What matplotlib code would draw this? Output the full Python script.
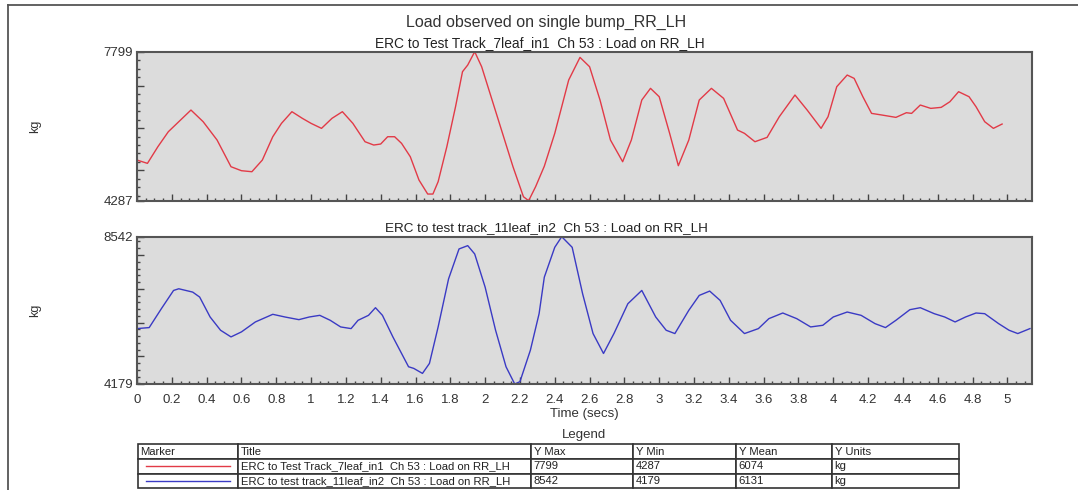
import matplotlib
matplotlib.use("Agg")
import matplotlib.pyplot as plt
from matplotlib.ticker import MultipleLocator, FixedLocator
from matplotlib.lines import Line2D

plt.rcParams['font.family'] = ['Liberation Sans', 'DejaVu Sans']

# valores (tempo em s, carga em kg)
t_red = [0.00, 0.06, 0.12, 0.18, 0.24, 0.31, 0.38, 0.46, 0.54, 0.60, 0.66, 0.72,
         0.78, 0.83, 0.89, 0.95, 1.00, 1.06, 1.12, 1.18, 1.24, 1.31, 1.36, 1.40,
         1.44, 1.48, 1.52, 1.57, 1.62, 1.67, 1.70, 1.73, 1.78, 1.83, 1.87, 1.90,
         1.94, 1.98, 2.04, 2.10, 2.16, 2.22, 2.25, 2.29, 2.34, 2.40, 2.48, 2.545,
         2.60, 2.66, 2.72, 2.79, 2.84, 2.90, 2.95, 3.00, 3.06, 3.11, 3.17, 3.23,
         3.30, 3.37, 3.45, 3.49, 3.55, 3.62, 3.69, 3.78, 3.85, 3.93, 3.97, 4.02,
         4.08, 4.12, 4.17, 4.22, 4.28, 4.36, 4.42, 4.45, 4.50, 4.56, 4.62, 4.67,
         4.72, 4.78, 4.82, 4.87, 4.92, 4.97]
load_red = [5245, 5167, 5560, 5913, 6149, 6424, 6149, 5717, 5088, 4994, 4970, 5245,
            5795, 6110, 6385, 6228, 6110, 5992, 6228, 6385, 6110, 5677, 5599, 5623,
            5795, 5795, 5638, 5324, 4774, 4444, 4444, 4735, 5560, 6503, 7328, 7485,
            7799, 7445, 6660, 5874, 5088, 4381, 4287, 4617, 5100, 5874, 7131, 7665,
            7445, 6660, 5717, 5206, 5717, 6660, 6935, 6738, 5874, 5112, 5717, 6660,
            6935, 6699, 5952, 5874, 5677, 5780, 6267, 6778, 6424, 5992, 6267, 6974,
            7249, 7170, 6738, 6345, 6306, 6251, 6361, 6345, 6542, 6463, 6487, 6620,
            6856, 6738, 6503, 6149, 5992, 6094]

t_blue = [0.00, 0.07, 0.14, 0.21, 0.24, 0.32, 0.36, 0.42, 0.48, 0.54, 0.60, 0.68,
          0.78, 0.85, 0.93, 0.99, 1.05, 1.11, 1.17, 1.23, 1.27, 1.33, 1.37, 1.41,
          1.47, 1.52, 1.56, 1.59, 1.64, 1.68, 1.73, 1.79, 1.85, 1.90, 1.94, 2.00,
          2.06, 2.12, 2.17, 2.20, 2.26, 2.31, 2.34, 2.40, 2.44, 2.50, 2.56, 2.62,
          2.68, 2.74, 2.82, 2.90, 2.98, 3.04, 3.09, 3.17, 3.23, 3.29, 3.35, 3.41,
          3.49, 3.57, 3.63, 3.71, 3.79, 3.87, 3.94, 4.00, 4.08, 4.16, 4.24, 4.30,
          4.36, 4.44, 4.50, 4.58, 4.64, 4.70, 4.76, 4.82, 4.87, 4.95, 5.01, 5.06,
          5.13]
load_blue = [5820, 5850, 6410, 6950, 7000, 6901, 6754, 6164, 5771, 5574, 5722, 6017,
             6243, 6164, 6085, 6164, 6213, 6066, 5869, 5820, 6066, 6213, 6439, 6213,
             5574, 5083, 4690, 4641, 4493, 4788, 5869, 7294, 8179, 8277, 8031, 7048,
             5771, 4690, 4179, 4248, 5181, 6262, 7343, 8228, 8542, 8228, 6852, 5673,
             5083, 5673, 6557, 6950, 6164, 5771, 5673, 6361, 6803, 6931, 6655, 6066,
             5673, 5820, 6115, 6282, 6115, 5869, 5918, 6164, 6311, 6213, 5967, 5850,
             6066, 6380, 6439, 6262, 6164, 6017, 6164, 6282, 6262, 5967, 5771, 5673,
             5820]

titulos = ["ERC to Test Track_7leaf_in1  Ch 53 : Load on RR_LH",
           "ERC to test track_11leaf_in2  Ch 53 : Load on RR_LH"]
y_max = ["7799", "8542"]
y_min = ["4287", "4179"]
y_mean = ["6074", "6131"]
y_units = ["kg", "kg"]
cores = ['#e23a47', '#3a3ac4']

fig = plt.figure(figsize=(10.78, 4.90), dpi=100)
W, H = 1078, 490

def pos(x0, y0, x1, y1):
    return [x0 / W, 1 - y1 / H, (x1 - x0) / W, (y1 - y0) / H]

# moldura externa
fig.add_artist(Line2D([8 / W, 1], [1 - 5 / H, 1 - 5 / H], color='#555555', lw=1.3))
fig.add_artist(Line2D([8 / W, 8 / W], [0, 1 - 5 / H], color='#555555', lw=1.3))

ax1 = fig.add_axes(pos(137, 51.7, 1031.7, 200.7))
ax2 = fig.add_axes(pos(137, 236.7, 1031.7, 384))

dados = [(ax1, t_red, load_red, 4287, 7799), (ax2, t_blue, load_blue, 4179, 8542)]
for k, (ax, t, v, lo, hi) in enumerate(dados):
    ax.set_facecolor('#dcdcdc')
    ax.plot(t, v, color=cores[k], lw=1.0)
    ax.set_xlim(0, 5.14)
    ax.set_ylim(lo, hi)
    ax.yaxis.set_major_locator(FixedLocator([lo, 5000, 6000, 7000, 8000, hi]))
    ax.set_yticklabels([str(lo), '', '', '', '', str(hi)])
    ax.yaxis.set_minor_locator(MultipleLocator(200))
    ax.xaxis.set_major_locator(MultipleLocator(0.2))
    ax.xaxis.set_minor_locator(MultipleLocator(0.05))
    ax.tick_params(which='both', direction='in', color='#444444', labelsize=9.5,
                   labelcolor='#333333', pad=3)
    ax.tick_params(axis='x', pad=7)
    ax.tick_params(which='major', length=5, width=1)
    ax.tick_params(which='minor', length=2.5, width=1)
    for s in ax.spines.values():
        s.set_color('#555555')
        s.set_linewidth(1.5)
    ax.set_ylabel('kg', fontsize=9, color='#333333')
    ax.yaxis.set_label_coords(-96 / 894.7, 0.5)

ax1.tick_params(axis='x', labelbottom=False)
xt = [round(0.2 * i, 1) for i in range(26)]
ax2.set_xticks(xt)
ax2.set_xticklabels(['%g' % x for x in xt])
ax2.set_xlabel('Time (secs)', fontsize=9.5, color='#333333', labelpad=2)

fig.text(546 / W, 1 - 22.7 / H, 'Load observed on single bump_RR_LH',
         ha='center', va='center', fontsize=11.5, color='#333333')
fig.text(540 / W, 1 - 43.3 / H, titulos[0], ha='center', va='center',
         fontsize=9.9, color='#222222')
fig.text(546 / W, 1 - 228.3 / H, titulos[1], ha='center', va='center',
         fontsize=9.7, color='#222222')
fig.text(584 / W, 1 - 435 / H, 'Legend', ha='center', va='center',
         fontsize=9.5, color='#333333')

# tabela da legenda
tab = fig.add_axes(pos(137.6, 444.3, 958.6, 488.3))
tab.axis('off')
larg = [100, 293.5, 102, 103, 96, 127]
linhas = [['', titulos[i], y_max[i], y_min[i], y_mean[i], y_units[i]] for i in range(2)]
tb = tab.table(cellText=linhas,
               colLabels=['Marker', 'Title', 'Y Max', 'Y Min', 'Y Mean', 'Y Units'],
               colWidths=[w / sum(larg) for w in larg], cellLoc='left', colLoc='left',
               bbox=[0, 0, 1, 1])
tb.auto_set_font_size(False)
for (r, c), cell in tb.get_celld().items():
    cell.set_edgecolor('#333333')
    cell.set_linewidth(1.2)
    cell.PAD = 3 / larg[c]
    cell.get_text().set_fontsize(8.1)
    cell.get_text().set_color('#222222')

tot = sum(larg)
for i in range(2):
    yc = 1 - (i + 1.5) / 3
    tab.plot([8 / tot, 92 / tot], [yc, yc], color=cores[i], lw=1.0,
             transform=tab.transAxes)
tab.set_xlim(0, 1)
tab.set_ylim(0, 1)

plt.savefig('out.png', dpi=100)
